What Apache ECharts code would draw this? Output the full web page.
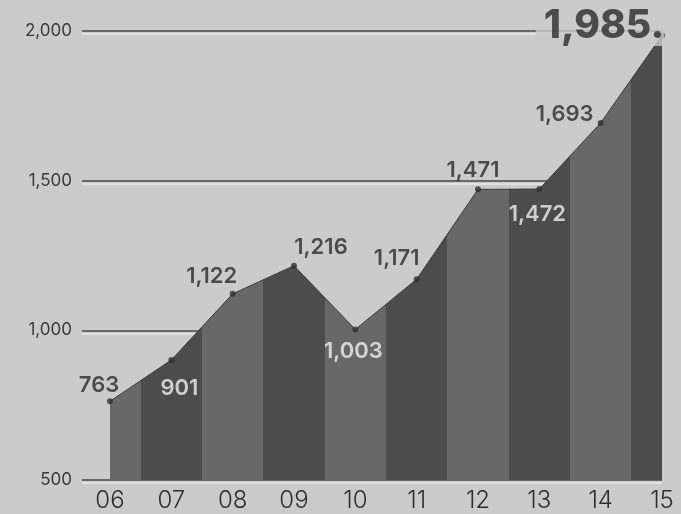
<!DOCTYPE html>
<html><head><meta charset="utf-8">
<script src="https://cdn.jsdelivr.net/npm/echarts@6/dist/echarts.min.js"></script>
<style>html,body{margin:0;padding:0;background:#cbcbcb;}#c{width:681px;height:514px;}</style>
</head><body><div id="c"></div>
<script>
const years = ['06','07','08','09','10','11','12','13','14','15'];
const values = [763, 901, 1122, 1216, 1003, 1171, 1471, 1472, 1693, 1985];
const yTicks = [500, 1000, 1500, 2000];

const BG = '#cbcbcb';
const LIGHT = '#686868', DARK = '#4c4c4c';
// label placement styles (offset from point, colour, size)
const labelStyles = [
  {dx:-11, dy:-16, white:false},
  {dx:8, dy:28, white:true},
  {dx:-21, dy:-17, white:false},
  {dx:27, dy:-18, white:false},
  {dx:-2, dy:22, white:true},
  {dx:-20, dy:-21, white:false},
  {dx:-5, dy:-19, white:false},
  {dx:-2, dy:25, white:true},
  {dx:-36, dy:-9, white:false},
  {dx:-62, dy:-9, white:false, big:true, bg:true}
];
const fmt = v => String(v).replace(/\B(?=(\d{3})+(?!\d))/g, ',');
const FONT = 'Inter';

const pieces = years.map((y,i)=>({gte:i-0.5, lt:i+0.5, color: i%2 ? DARK : LIGHT}));

const chart = echarts.init(document.getElementById('c'), null, {renderer:'canvas'});
chart.setOption({
  backgroundColor: BG,
  animation: false,
  grid: [
    {left:82, right:19, top:31, bottom:34},
    {left:110, right:19, top:31, bottom:34}
  ],
  xAxis: [
    {gridIndex:0, type:'value', min:0, max:1, show:false},
    {gridIndex:1, type:'value', min:0, max:years.length-1, interval:1,
     axisLine:{show:false}, axisTick:{show:false}, splitLine:{show:false},
     axisLabel:{formatter: v => years[v] || '', fontFamily:FONT, fontSize:24, fontWeight:300, color:'#2e2e2e', margin:9}}
  ],
  yAxis: [
    {gridIndex:0, type:'value', min:500, max:2000, interval:500,
     axisLine:{show:false}, axisTick:{show:false},
     axisLabel:{formatter: v => fmt(v), fontFamily:FONT, fontSize:17, color:'#3a3a3a', margin:10},
     splitLine:{lineStyle:{color:'#474747', width:1.6, shadowColor:'#e8e8e8', shadowOffsetY:3, shadowBlur:0}}},
    {gridIndex:1, type:'value', min:500, max:2000, interval:500, show:false, splitLine:{show:false}}
  ],
  visualMap: {type:'piecewise', show:false, dimension:0, seriesIndex:0, pieces: pieces},
  series: [
    {type:'line', xAxisIndex:1, yAxisIndex:1, showSymbol:false,
     data: values.map((v,i)=>[i,v]),
     lineStyle:{color:'#3c3c3c', width:1},
     areaStyle:{opacity:1, origin:'start'}, z:3},
    {type:'scatter', xAxisIndex:1, yAxisIndex:1, symbolSize:6, itemStyle:{color:'#2f2f2f'}, z:4,
     data: values.map((v,i)=>{
       const s = labelStyles[i];
       return {value:[i,v], label:{show:true, position:'inside', offset:[s.dx, s.dy],
         formatter: fmt(v) + (s.big ? '.' : ''),
         fontFamily:FONT, fontWeight: s.big ? 800 : 600,
         fontSize: s.big ? 39 : 22,
         color: s.white ? '#f0f0f0' : '#2b2b2b',
         backgroundColor: s.bg ? BG : 'transparent',
         padding: s.bg ? [0,0,0,8] : 0}};
     })}
  ]
});
</script></body></html>
